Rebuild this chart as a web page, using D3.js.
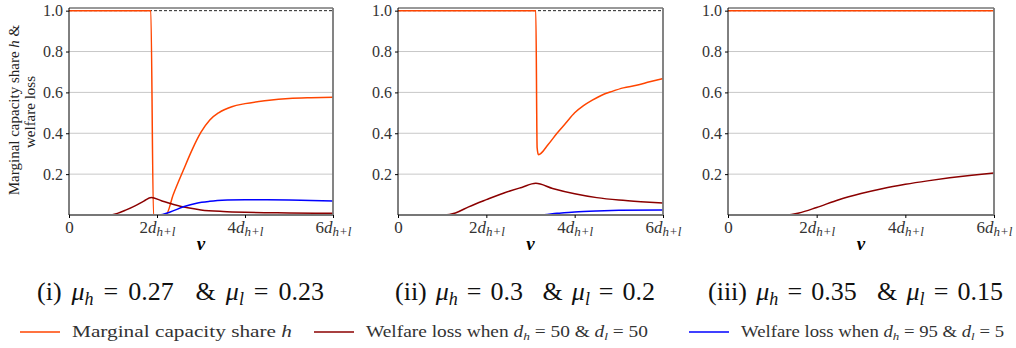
<!DOCTYPE html>
<html><head><meta charset="utf-8">
<script src="https://cdn.jsdelivr.net/npm/d3@7"></script>
<style>body{margin:0;background:#fff}svg{display:block}</style>
</head><body><svg id="c" width="1016" height="348"></svg>
<script>
// ---- data ----
const panelTitles = [
  {roman: "(i)", muH: "0.27", muL: "0.23"},
  {roman: "(ii)", muH: "0.3", muL: "0.2"},
  {roman: "(iii)", muH: "0.35", muL: "0.15"}
];
const xTickValues = [0, 2, 4, 6];
const xTickCoef = ["0", "2", "4", "6"];
const yTickValues = [0.2, 0.4, 0.6, 0.8, 1.0];
const legendLabels = ["Marginal capacity share", "Welfare loss when", "Welfare loss when"];

const shareP1 = [[0,1],[1.86,1],[1.92,0],[2.2,0],[2.37,0.1],[2.6,0.22],[2.8,0.32],[3.0,0.405],[3.2,0.465],[3.4,0.5],[3.7,0.53],[4.0,0.545],[4.5,0.56],[5,0.57],[5.5,0.574],[6,0.576]];
const lossAP1 = [[0,0],[0.9,0],[1.1,0.008],[1.3,0.025],[1.5,0.045],[1.7,0.068],[1.87,0.086],[2.1,0.07],[2.4,0.05],[2.7,0.035],[3.0,0.025],[3.5,0.017],[4,0.013],[5,0.01],[6,0.008]];
const lossBP1 = [[0,0],[2.05,0],[2.3,0.015],[2.6,0.04],[2.9,0.058],[3.2,0.067],[3.6,0.073],[4,0.075],[4.5,0.075],[5,0.074],[5.5,0.071],[6,0.069]];

const shareP2 = [[0,1],[3.12,1],[3.15,0.33],[3.18,0.295],[3.4,0.345],[3.6,0.4],[3.8,0.45],[4.0,0.5],[4.2,0.535],[4.4,0.562],[4.6,0.585],[4.85,0.605],[5.1,0.622],[5.4,0.635],[5.7,0.652],[6,0.668]];
const lossAP2 = [[0,0],[1.05,0],[1.3,0.01],[1.6,0.04],[2.0,0.075],[2.4,0.108],[2.8,0.135],[3.12,0.155],[3.5,0.13],[4.0,0.104],[4.5,0.085],[5.0,0.073],[5.5,0.065],[6,0.059]];
const lossBP2 = [[0,0],[3.2,0],[3.6,0.008],[4,0.015],[4.5,0.02],[5,0.023],[6,0.025]];

const shareP3 = [[0,1],[6,1]];
const lossAP3 = [[0,0],[1.35,0],[1.6,0.01],[2.0,0.037],[2.5,0.075],[3.0,0.105],[3.5,0.13],[4.0,0.15],[4.5,0.167],[5.0,0.182],[5.5,0.195],[6,0.206]];
const lossBP3 = [[0,0],[6,0]];

const panelSeries = [
  [shareP1, lossAP1, lossBP1],
  [shareP2, lossAP2, lossBP2],
  [shareP3, lossAP3, lossBP3]
];
const colors = ["#ff4500", "#8b0000", "#0000ff"];

// ---- layout ----
const svg = d3.select("#c");
const serif = "Liberation Serif";
const panelX = [[69,333],[398,663],[728,994]];
const yTop = 8, yBot = 215;
const y = d3.scaleLinear().domain([0, 1.013]).range([yBot, yTop]);
const titleLeft = [37, 395, 708];
const titleWidths = [287, 260, 295];

panelSeries.forEach((series, i) => {
  const x = d3.scaleLinear().domain([0, 6]).range(panelX[i]);
  const g = svg.append("g");
  g.selectAll("line.grid").data(yTickValues.slice(0,4)).join("line")
    .attr("x1", panelX[i][0]).attr("x2", panelX[i][1])
    .attr("y1", d => y(d)).attr("y2", d => y(d))
    .attr("stroke", "#c8c8c8").attr("stroke-width", 1);
  g.append("line").attr("x1", panelX[i][0]).attr("x2", panelX[i][1])
    .attr("y1", y(1)).attr("y2", y(1))
    .attr("stroke", "#222").attr("stroke-width", 1).attr("stroke-dasharray", "3,2");
  const line = d3.line().x(d => x(d[0])).y(d => y(d[1])).curve(d3.curveMonotoneX);
  series.forEach((s, k) => {
    g.append("path").datum(s).attr("d", line)
      .attr("fill", "none").attr("stroke", colors[k]).attr("stroke-width", 1.5);
  });
  // spines
  g.append("line").attr("x1", panelX[i][0]).attr("x2", panelX[i][1]).attr("y1", yTop).attr("y2", yTop).attr("stroke", "#333").attr("stroke-width", 1);
  g.append("line").attr("x1", panelX[i][1]).attr("x2", panelX[i][1]).attr("y1", yTop).attr("y2", yBot).attr("stroke", "#777").attr("stroke-width", 1.8);
  g.append("line").attr("x1", panelX[i][0]).attr("x2", panelX[i][1]).attr("y1", yBot).attr("y2", yBot).attr("stroke", "#777").attr("stroke-width", 1.8);
  g.append("line").attr("x1", panelX[i][0]).attr("x2", panelX[i][0]).attr("y1", yTop).attr("y2", yBot).attr("stroke", "#000").attr("stroke-width", 1);

  const ya = g.append("g").attr("transform", `translate(${panelX[i][0]},0)`)
    .call(d3.axisLeft(y).tickValues(yTickValues).tickFormat(d3.format(".1f")).tickSize(3).tickPadding(3));
  ya.select(".domain").remove();
  ya.selectAll("text").attr("font-family", serif).attr("font-size", 16).attr("fill", "#333");
  const xa = g.append("g").attr("transform", `translate(0,${yBot})`)
    .call(d3.axisBottom(x).tickValues(xTickValues).tickSize(3).tickPadding(3).tickFormat(""));
  xa.select(".domain").remove();
  xa.selectAll(".tick").each(function(d, j) {
    const t = d3.select(this).append("text").attr("y", 18).attr("text-anchor", "middle")
      .attr("font-family", serif).attr("font-size", 17).attr("fill", "#333");
    if (j === 0) { t.text("0"); }
    else {
      t.append("tspan").text(xTickCoef[j]);
      t.append("tspan").attr("font-style", "italic").text("d");
      t.append("tspan").attr("font-style", "italic").attr("font-size", 13).attr("dy", 3).text("h+l");
    }
  });
  svg.append("text").attr("x", (panelX[i][0]+panelX[i][1])/2).attr("y", 250)
    .attr("text-anchor", "middle").attr("font-family", serif).attr("font-size", 19)
    .attr("font-weight", "bold").attr("font-style", "italic").text("v");

  // subtitle: pieces laid out then gaps stretched to match target width
  const p = panelTitles[i];
  const st = svg.append("text").attr("x", titleLeft[i]).attr("y", 300)
    .attr("font-family", serif).attr("font-size", 26).attr("fill", "#111");
  const pieces = [
    {t: p.roman, w: 0},
    {t: "μ", it: true, w: 1},
    {t: "h", it: true, sub: true, w: 0},
    {t: "=", w: 1},
    {t: p.muH, w: 1},
    {t: "&", w: 2.2},
    {t: "μ", it: true, w: 1},
    {t: "l", it: true, sub: true, w: 0},
    {t: "=", w: 1},
    {t: p.muL, w: 1}
  ];
  const spans = pieces.map(pc => {
    const ts = st.append("tspan").text(pc.t);
    if (pc.it) ts.attr("font-style", "italic");
    if (pc.sub) ts.attr("font-size", 18).attr("dy", 5);
    return ts;
  });
  spans.forEach((ts, k) => { if (k > 0 && pieces[k-1].sub) ts.attr("dy", -5); });
  const natural = st.node().getComputedTextLength();
  const totalW = d3.sum(pieces, d => d.w);
  const unit = Math.max(2, (titleWidths[i] - natural) / totalW);
  spans.forEach((ts, k) => { if (pieces[k].w) ts.attr("dx", pieces[k].w * unit); });
});

// y label
const yl = svg.append("text").attr("transform", "translate(19,110) rotate(-90)")
  .attr("text-anchor", "middle").attr("font-family", serif).attr("font-size", 15).attr("fill", "#222");
yl.append("tspan").text("Marginal capacity share ");
yl.append("tspan").attr("font-style", "italic").text("h");
yl.append("tspan").text(" &");
svg.append("text").attr("transform", "translate(35,112) rotate(-90)")
  .attr("text-anchor", "middle").attr("font-family", serif).attr("font-size", 15).attr("fill", "#222")
  .text("welfare loss");

// legend
const legX = [20, 314, 689];
const legTextW = [220, 282, 263];
legendLabels.forEach((lab, k) => {
  svg.append("line").attr("x1", legX[k]).attr("x2", legX[k]+40).attr("y1", 332).attr("y2", 332)
    .attr("stroke", colors[k]).attr("stroke-width", 1.5);
  const t = svg.append("text").attr("x", legX[k]+52).attr("y", 337)
    .attr("font-family", serif).attr("font-size", 16).attr("fill", "#333")
    .attr("textLength", legTextW[k]).attr("lengthAdjust", "spacingAndGlyphs");
  t.append("tspan").text(lab + " ");
  if (k === 0) {
    t.append("tspan").attr("font-style", "italic").text("h");
  } else {
    const vals = k === 1 ? ["50", "50"] : ["95", "5"];
    t.append("tspan").attr("font-style", "italic").text("d");
    t.append("tspan").attr("font-style", "italic").attr("font-size", 11).attr("dy", 3).text("h");
    t.append("tspan").attr("dy", -3).text(" = " + vals[0] + " & ");
    t.append("tspan").attr("font-style", "italic").text("d");
    t.append("tspan").attr("font-style", "italic").attr("font-size", 11).attr("dy", 3).text("l");
    t.append("tspan").attr("dy", -3).text(" = " + vals[1]);
  }
});
</script></body></html>
